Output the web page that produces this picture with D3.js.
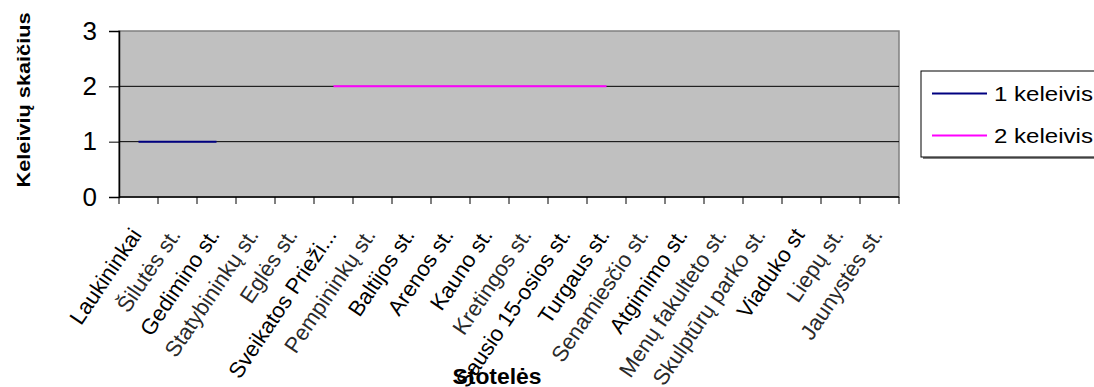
<!DOCTYPE html>
<html><head><meta charset="utf-8">
<script src="https://cdn.jsdelivr.net/npm/d3@7"></script>
<style>
body{margin:0;background:#fff;}
svg{display:block;font-family:"Liberation Sans",Arial,sans-serif;}
</style></head>
<body><svg id="c" width="1094" height="387"></svg>
<script>
const categories = ["Laukininkai","Šilutės st.","Gedimino st.","Statybininkų st.","Eglės st.","Sveikatos Prieži...","Pempininkų st.","Baltijos st.","Arenos st.","Kauno st.","Kretingos st.","Sausio 15-osios st.","Turgaus st.","Senamiesčio st.","Atgimimo st.","Menų fakulteto st.","Skulptūrų parko st.","Viaduko st","Liepų st.","Jaunystės st."];
const garbled = [false,true,false,true,true,false,true,false,false,false,true,false,false,true,false,true,true,false,true,true];
const series1 = [1,1,1,null,null,null,null,null,null,null,null,null,null,null,null,null,null,null,null,null];
const series2 = [null,null,null,null,null,2,2,2,2,2,2,2,2,null,null,null,null,null,null,null];
const seriesNames = ["1 keleivis","2 keleivis"];
const seriesColors = ["#000080","#ff00ff"];
const yTicks = [0,1,2,3];

const svg = d3.select("#c");
const L=119,R=899,T=31,B=197;
const x = d3.scaleBand().domain(categories).range([L,R]);
const y = d3.scaleLinear().domain([0,3]).range([B,T]);

// plot area
svg.append("rect").attr("x",L).attr("y",T).attr("width",R-L).attr("height",B-T)
  .attr("fill","#c0c0c0").attr("stroke","#808080").attr("stroke-width",1.5);

// gridlines
svg.append("g").selectAll("line").data(yTicks.filter(v=>v>0&&v<3)).join("line")
  .attr("x1",L).attr("x2",R).attr("y1",d=>y(d)).attr("y2",d=>y(d))
  .attr("stroke","#000").attr("stroke-width",1);

// y axis
const ya = svg.append("g").attr("transform",`translate(${L},0)`)
  .call(d3.axisLeft(y).tickValues(yTicks).tickSize(10).tickPadding(12).tickFormat(d3.format("d")));
ya.select(".domain").attr("stroke","#000").attr("stroke-width",1.5);
ya.selectAll(".tick line").attr("stroke","#000");
ya.selectAll(".tick text").attr("font-size",26).attr("fill","#000").attr("font-family","Liberation Sans, Arial, sans-serif");

// x axis line and boundary ticks
svg.append("line").attr("x1",L).attr("x2",R).attr("y1",B).attr("y2",B).attr("stroke","#000").attr("stroke-width",1.5);
const bounds = categories.map(c=>x(c)).concat([x.range()[1]]);
svg.append("g").selectAll("line").data(bounds).join("line")
  .attr("x1",d=>d).attr("x2",d=>d).attr("y1",B).attr("y2",B+7).attr("stroke","#000");

// x labels
svg.append("g").selectAll("text").data(categories).join("text")
  .attr("transform",(d)=>`translate(${x(d)+x.bandwidth()/2+4},${235}) rotate(-56)`)
  .attr("text-anchor","end")
  .attr("font-size",22)
  .attr("fill",(d,i)=>garbled[i]?"#2a2a2a":"#000")
  .text(d=>d);

// series lines
[series1,series2].forEach((s,k)=>{
  const line = d3.line().defined(d=>d!=null)
    .x((d,i)=>x(categories[i])+x.bandwidth()/2).y(d=>y(d));
  svg.append("path").datum(s).attr("d",line).attr("fill","none")
    .attr("stroke",seriesColors[k]).attr("stroke-width",2);
});

// axis titles
svg.append("text").attr("transform","translate(30,100) rotate(-90)")
  .attr("text-anchor","middle").attr("font-weight","bold").attr("font-size",18)
  .attr("textLength",175).attr("lengthAdjust","spacingAndGlyphs")
  .text("Keleivių skaičius");
svg.append("text").attr("x",497).attr("y",384)
  .attr("text-anchor","middle").attr("font-weight","bold").attr("font-size",22)
  .attr("textLength",89).attr("lengthAdjust","spacingAndGlyphs")
  .text("Stotelės");

// legend
const lg = svg.append("g");
lg.append("rect").attr("x",923).attr("y",73).attr("width",200).attr("height",86).attr("fill","#808080");
lg.append("rect").attr("x",921).attr("y",71).attr("width",200).attr("height",86).attr("fill","#fff").attr("stroke","#000");
seriesNames.forEach((n,k)=>{
  const yy = 93.5 + k*42;
  lg.append("line").attr("x1",932).attr("x2",987).attr("y1",yy).attr("y2",yy)
    .attr("stroke",seriesColors[k]).attr("stroke-width",2);
  lg.append("text").attr("x",994).attr("y",yy+7.5).attr("font-size",20)
    .attr("textLength",99).attr("lengthAdjust","spacingAndGlyphs").text(n);
});
</script></body></html>
